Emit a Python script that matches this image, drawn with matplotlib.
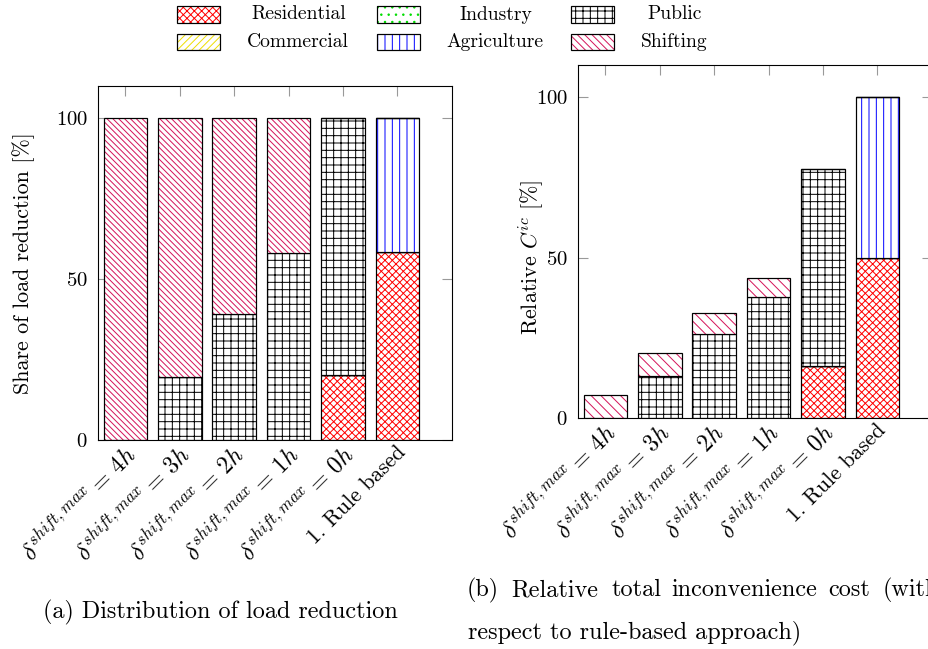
import matplotlib
matplotlib.use("Agg")
import matplotlib.pyplot as plt
from matplotlib.patches import Rectangle
from matplotlib.transforms import ScaledTranslation
import numpy as np

plt.rcParams['font.family'] = 'serif'
plt.rcParams['font.serif'] = ['cmr10']
plt.rcParams['mathtext.fontset'] = 'cm'
plt.rcParams['axes.formatter.use_mathtext'] = True
plt.rcParams['hatch.linewidth'] = 0.8

# categories / tick labels
scenarios = [r'$\delta^{shift,max} =\, 4h$', r'$\delta^{shift,max} =\, 3h$',
             r'$\delta^{shift,max} =\, 2h$', r'$\delta^{shift,max} =\, 1h$',
             r'$\delta^{shift,max} =\, 0h$', '1. Rule based']
sectors = ['Residential', 'Commercial', 'Industry', 'Agriculture', 'Public', 'Shifting']

# (a) share of load reduction [%]
share_residential = [0, 0, 0, 0, 20.2, 58.3]
share_commercial = [0, 0, 0, 0, 0, 0]
share_industry = [0, 0, 0, 0, 0, 0]
share_agriculture = [0, 0, 0, 0, 0, 41.7]
share_public = [0, 19.6, 39.0, 58.2, 79.8, 0]
share_shifting = [100, 80.4, 61.0, 41.8, 0, 0]

# (b) relative inconvenience cost [%]
cost_residential = [0, 0, 0, 0, 16.3, 50.0]
cost_commercial = [0, 0, 0, 0, 0, 0]
cost_industry = [0, 0, 0, 0, 0, 0]
cost_agriculture = [0, 0, 0, 0, 0, 50.0]
cost_public = [0, 13.2, 26.1, 37.7, 61.2, 0]
cost_shifting = [7.2, 7.0, 6.8, 5.9, 0, 0]

# hatch styles (hatch colour, pattern) per sector
styles = {
    'Residential': ('#ff0000', 'xxxx'),
    'Commercial': ('#eedd00', '////'),
    'Industry': ('#00dd00', '..'),
    'Agriculture': ('#0000ff', '||'),
    'Public': ('#000000', '++'),
    'Shifting': ('#d4145a', '\\' * 4),
}

W, H, DPI = 928, 649, 88
fig = plt.figure(figsize=(W / DPI, H / DPI), dpi=DPI)


def stacked(ax, layers, shift_hatch):
    x = np.arange(len(scenarios))
    bottom = np.zeros(len(scenarios))
    for name, vals in zip(sectors, layers):
        vals = np.array(vals, dtype=float)
        col, hatch = styles[name]
        if name == 'Shifting':
            hatch = shift_hatch
        ax.bar(x, vals, 0.8, bottom=bottom, facecolor='white', edgecolor=col,
               hatch=hatch, linewidth=0, zorder=2)
        ax.bar(x, vals, 0.8, bottom=bottom, fill=False, edgecolor='black',
               linewidth=1.0, zorder=2)
        bottom += vals
    ax.set_xlim(-0.5, 6.0)
    ax.set_ylim(0, 110)
    ax.set_yticks([0, 50, 100])
    ax.set_xticks(x)
    ax.set_xticklabels(scenarios, rotation=45, ha='right', va='top',
                       rotation_mode='anchor', fontsize=18)
    ax.tick_params(axis='both', direction='in', length=8.5, width=0.9,
                   color='#999999', top=True, right=True)
    ax.tick_params(axis='y', pad=8.5, labelsize=17)
    ax.tick_params(axis='x', pad=1.5)
    shift = ScaledTranslation(-2 / DPI, 0, fig.dpi_scale_trans)
    for lab in ax.get_xticklabels():
        lab.set_transform(lab.get_transform() + shift)
        if lab.get_text().startswith('$'):
            lab.set_fontsize(19.5)
    for s in ax.spines.values():
        s.set_linewidth(0.9)
        s.set_zorder(3)


ax1 = fig.add_axes([98.3 / W, 1 - 440 / H, 353.4 / W, 354 / H])
stacked(ax1, [share_residential, share_commercial, share_industry,
              share_agriculture, share_public, share_shifting], '\\' * 5)
ax1.set_ylabel('Share of load reduction [%]', fontsize=18)
ax1.yaxis.set_label_coords(-0.18, 0.5)

ax2 = fig.add_axes([578.3 / W, 1 - 418.3 / H, 353.4 / W, 353.6 / H])
stacked(ax2, [cost_residential, cost_commercial, cost_industry,
              cost_agriculture, cost_public, cost_shifting], '\\' * 3)
ax2.set_ylabel('Relative $C^{ic}$ [%]', fontsize=18)
ax2.yaxis.set_label_coords(-0.09, 0.455)

# legend drawn by hand (3 columns, centred text like pgfplots)
patch_x = [176.7, 376.7, 570.7]
text_x = [298.3, 495.4, 674.3]
row_y = [14.5, 41.7]
for i, name in enumerate(sectors):
    c, r = i // 2, i % 2
    col, hatch = styles[name]
    x0, y0 = patch_x[c] / W, 1 - (row_y[r] + 8) / H
    fig.add_artist(Rectangle((x0, y0), 43.3 / W, 16 / H, transform=fig.transFigure,
                             facecolor='white', edgecolor=col, hatch=hatch, linewidth=0))
    fig.add_artist(Rectangle((x0, y0), 43.3 / W, 16 / H, transform=fig.transFigure,
                             fill=False, edgecolor='black', linewidth=1.0))
    fig.text(text_x[c] / W, 1 - row_y[r] / H, name, ha='center', va='center', fontsize=16)

# sub-captions
fig.text(43 / W, 1 - 612 / H, '(a) Distribution of load reduction',
         ha='left', va='center', fontsize=19.8)
cap_words = ['(b)', 'Relative', 'total', 'inconvenience', 'cost', '(with']
cap_x = [467, 511, 611, 671, 828, 883]
for wd, xx in zip(cap_words, cap_x):
    fig.text(xx / W, 1 - 590 / H, wd, ha='left', va='center', fontsize=19.8)
fig.text(468 / W, 1 - 633 / H, 'respect to rule-based approach)',
         ha='left', va='center', fontsize=19.8)

fig.savefig('out.png', dpi=DPI)
